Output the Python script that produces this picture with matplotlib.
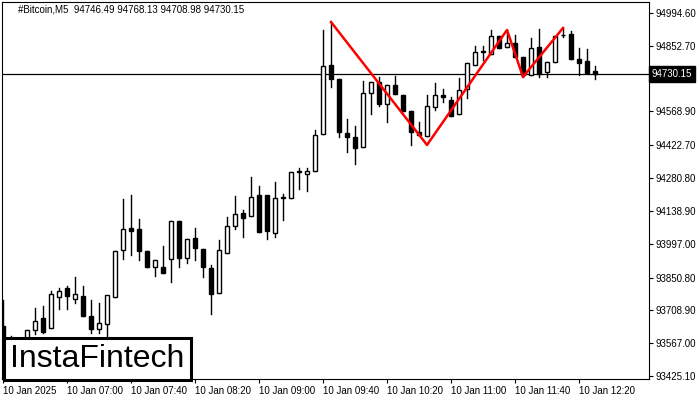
import matplotlib
matplotlib.use("Agg")
import matplotlib.pyplot as plt
from matplotlib.patches import Rectangle

opens = [93641.2,93559.0,93572.0,93572.0,93623.9,93675.8,93632.5,93766.6,93805.5,93757.9,93770.9,93684.4,93628.2,93649.8,93766.6,93969.8,94065.0,94060.6,93965.5,93896.3,93896.3,93930.9,94095.2,93935.2,94021.7,93974.1,93892.0,93783.9,93956.8,94073.6,94129.8,94116.8,94207.6,94207.6,94043.3,94198.7,94194.6,94311.4,94298.4,94311.4,94471.4,94769.7,94709.2,94475.7,94458.4,94415.2,94648.7,94696.2,94601.1,94683.3,94640.0,94570.8,94480.0,94462.7,94588.1,94640.0,94618.4,94557.9,94666.0,94769.7,94830.3,94817.3,94895.1,94847.6,94864.9,94804.3,94726.5,94847.6,94739.5,94782.7,94899.5,94903.8,94795.7,94787.0,94743.8]
highs = [93753.6,93597.9,93585.0,93623.9,93719.0,93727.7,93792.5,93805.5,93814.1,93853.1,93814.1,93753.6,93740.6,93766.6,93966.0,94190.3,94207.6,94103.8,93965.5,93926.6,93987.1,94095.2,94095.2,94017.4,94064.9,93974.1,93904.9,94013.0,94112.5,94203.3,94142.8,94285.5,94246.5,94108.2,94263.8,94211.9,94307.1,94324.4,94324.4,94488.7,94921.1,94955.7,94709.2,94536.2,94506.0,94700.6,94696.2,94717.9,94683.3,94722.2,94640.0,94570.8,94523.3,94640.0,94691.9,94666.0,94631.4,94713.5,94778.4,94851.9,94851.9,94921.1,94895.1,94921.1,94899.5,94804.3,94886.5,94925.4,94782.7,94895.1,94929.7,94916.8,94843.2,94838.9,94765.4]
lows = [93537.4,93537.4,93546.0,93559.0,93606.6,93610.9,93632.5,93714.7,93714.7,93740.6,93684.4,93610.9,93610.9,93593.6,93766.6,93930.9,93947.5,93926.6,93896.3,93857.4,93870.3,93831.4,93896.3,93913.6,93926.6,93853.1,93693.1,93783.9,93956.8,94060.6,94026.0,94116.8,94047.6,94017.4,94026.0,94099.5,94194.6,94233.6,94224.9,94311.4,94471.4,94674.6,94458.4,94393.6,94341.7,94415.2,94557.9,94592.5,94523.3,94644.3,94570.8,94423.8,94467.1,94462.7,94575.2,94609.8,94549.2,94557.9,94627.0,94769.7,94791.4,94817.3,94843.2,94847.6,94804.3,94717.9,94726.5,94717.9,94717.9,94782.7,94890.8,94795.7,94726.5,94735.1,94709.2]
closes = [93559.0,93572.0,93580.6,93623.9,93662.8,93615.2,93779.5,93792.5,93771.0,93779.5,93684.4,93628.2,93654.1,93774.1,93966.0,94060.6,94052.0,93965.5,93896.3,93926.6,93870.3,94095.2,93935.2,94017.4,93978.4,93896.3,93779.5,93969.8,94073.6,94125.5,94108.2,94199.0,94047.6,94052.0,94194.6,94194.6,94307.1,94307.1,94311.4,94467.1,94765.4,94709.2,94480.0,94458.4,94410.8,94648.7,94696.2,94601.1,94683.3,94644.3,94570.8,94480.0,94467.1,94592.5,94640.0,94631.4,94549.2,94661.6,94778.4,94826.0,94826.0,94895.1,94843.2,94864.9,94804.3,94726.5,94843.2,94730.8,94782.7,94895.1,94897.3,94795.7,94778.4,94735.1,94730.15]

pattern_idx = [41, 53, 63, 65, 70]
pattern_px = [94955.7, 94423.8, 94921.1, 94717.9, 94929.7]

yticks = [94994.60,94852.70,94710.80,94568.90,94422.70,94280.80,94138.90,93997.00,93850.80,93708.90,93567.00,93425.10]
xtick_idx = [0,8,16,24,32,40,48,56,64,72]
xtick_labels = ["10 Jan 2025","10 Jan 07:00","10 Jan 07:40","10 Jan 08:20","10 Jan 09:00",
                "10 Jan 09:40","10 Jan 10:20","10 Jan 11:00","10 Jan 11:40","10 Jan 12:20"]
last_price = 94730.15
title = "#Bitcoin,M5  94746.49 94768.13 94708.98 94730.15"

FONT = ['Liberation Sans', 'DejaVu Sans']
fig = plt.figure(figsize=(7,4), dpi=100)
ax = fig.add_axes([2/700, 21/400, 647/700, 377/400])
for i,(o,h,l,c) in enumerate(zip(opens,highs,lows,closes)):
    ax.plot([i,i],[l,h],color='black',lw=1,zorder=2)
    lo, hi = min(o,c), max(o,c)
    hgt = max(hi-lo, 2.0)
    fc = 'white' if c > o else 'black'
    ax.add_patch(Rectangle((i-0.3, lo), 0.6, hgt, facecolor=fc, edgecolor='black', lw=1, zorder=3))
ax.plot(pattern_idx, pattern_px, color='#ff0000', lw=1.8, zorder=4)
ax.axhline(last_price, color='black', lw=0.9, zorder=1)
ax.set_xlim(-0.125, 80.75)
ax.set_ylim(93412, 95042)
ax.yaxis.tick_right()
ax.set_yticks(yticks)
ax.set_yticklabels([f"{v:.2f}" for v in yticks], fontsize=7, family=FONT)
ax.set_xticks(xtick_idx)
ax.set_xticklabels(xtick_labels, fontsize=7, ha='left', family=FONT)
ax.tick_params(axis='both', length=3, pad=2)
ax.text(1.004, last_price, f"{last_price:.2f}", transform=ax.get_yaxis_transform(), fontsize=7,
        family=FONT, color='white', va='center', ha='left', zorder=10,
        bbox=dict(boxstyle='square,pad=0.3', fc='black', ec='black'))
ax.text(0.025, 0.993, title, transform=ax.transAxes, fontsize=7, va='top', ha='left', family=FONT)
fig.text(10/700, 1-359/400, "InstaFintech", fontsize=23, va='center', ha='left', family=FONT,
         bbox=dict(boxstyle='square,pad=0.2', fc='white', ec='black', lw=2.2), zorder=20)
fig.savefig("out.png", dpi=100)
